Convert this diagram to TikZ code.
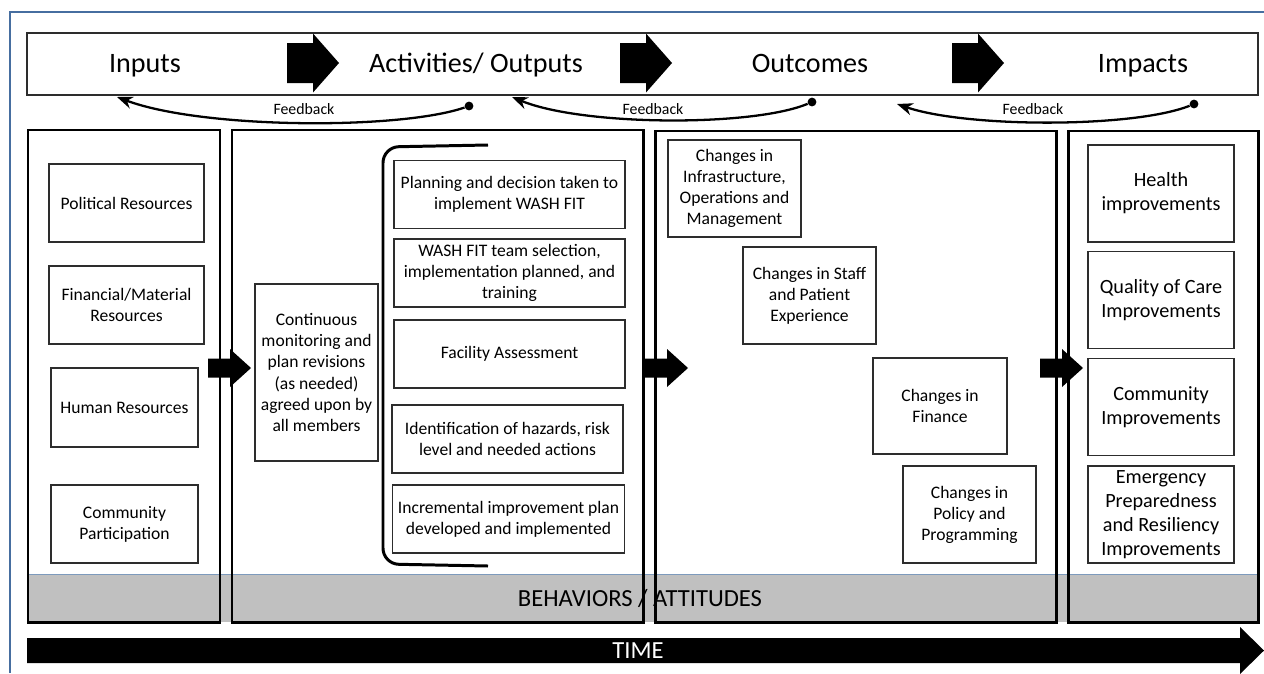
\documentclass[tikz,border=0pt]{standalone}
\usepackage{fontspec}
\setmainfont{Carlito}
\usepackage{tikz}
\usetikzlibrary{arrows.meta}

\definecolor{framecol}{RGB}{70,110,160}
\definecolor{bandgray}{RGB}{192,192,192}
\definecolor{boxline}{RGB}{45,45,45}

% x tail, y centre, length, head length, half shaft, half head
\newcommand{\blockarrow}[6]{%
  \fill (#1,#2-#5) -- (#1+#3-#4,#2-#5) -- (#1+#3-#4,#2-#6) -- (#1+#3,#2)
    -- (#1+#3-#4,#2+#6) -- (#1+#3-#4,#2+#5) -- (#1,#2+#5) -- cycle;}

\begin{document}
\begin{tikzpicture}[x=0.02cm,y=-0.02cm,
    box/.style={draw=boxline,line width=0.8pt,align=center,inner sep=1pt,
      font=\fontsize{10}{12}\selectfont},
    impbox/.style={box,minimum width=2.92cm,minimum height=1.94cm,
      font=\fontsize{11.5}{13.6}\selectfont},
    panel/.style={draw=black,line width=1.7pt},
    headtext/.style={anchor=base,font=\fontsize{16}{19}\selectfont},
    fbarrow/.style={line width=1.3pt,-{Stealth[length=9pt,width=7pt]}},
    fbdot/.style={circle,fill=black,inner sep=0pt,minimum size=5pt},
    fblabel/.style={font=\fontsize{9}{10}\selectfont}]
    \useasboundingbox (0,0) rectangle (1264,673);
    \fill[white] (0,0) rectangle (1264,673);
    \draw[framecol,line width=1.5pt] (10,673) -- (10,12) -- (1264,12);

    % top bar
    \draw[boxline,line width=0.8pt] (27,33) rectangle (1258,95);
    \node[headtext] (inputs) at (145,72) {Inputs};
    \node[headtext] (activities) at (476,72) {Activities/ Outputs};
    \node[headtext] (outcomes) at (810,72) {Outcomes};
    \node[headtext] (impacts) at (1143,72) {Impacts};
    \blockarrow{287}{63}{52}{26}{20}{29.5}
    \blockarrow{620}{63}{52}{26}{20}{29.5}
    \blockarrow{952}{63}{52}{26}{20}{29.5}

    % feedback
    \node[fbdot] (fb1s) at (469,106) {};
    \coordinate (fb1e) at (117,97);
    \draw[fbarrow] (fb1s) .. controls +(-70,24) and +(85,32) .. (fb1e);
    \node[fblabel] (fb1) at (304,109) {Feedback};
    \node[fbdot] (fb2s) at (812,102) {};
    \coordinate (fb2e) at (512,97);
    \draw[fbarrow] (fb2s) .. controls +(-60,25) and +(70,29) .. (fb2e);
    \node[fblabel] (fb2) at (653,109) {Feedback};
    \node[fbdot] (fb3s) at (1194,104) {};
    \coordinate (fb3e) at (897,104);
    \draw[fbarrow] (fb3s) .. controls +(-60,24) and +(70,24) .. (fb3e);
    \node[fblabel] (fb3) at (1033,109) {Feedback};

    % behaviours band and panels
    \fill[bandgray] (28,574) rectangle (1258,622);
    \draw[framecol!70,line width=0.5pt] (28,574) -- (1258,574);
    \draw[panel] (28,130) rectangle (220,622);
    \draw[panel] (232,130) rectangle (643,622);
    \draw[panel] (655,131) rectangle (1056,622);
    \draw[panel] (1068,131) rectangle (1258,622);
    \node[font=\fontsize{14}{16}\selectfont] (behav) at (640,598) {BEHAVIORS / ATTITUDES};

    % inputs
    \node[box,minimum width=3.1cm,minimum height=1.56cm] (pol) at (126.5,203) {Political Resources};
    \node[box,minimum width=3.1cm,minimum height=1.56cm] (fin) at (126.5,305) {Financial/Material\\Resources};
    \node[box,minimum width=2.94cm,minimum height=1.58cm] (hum) at (124.5,407.5) {Human Resources};
    \node[box,minimum width=2.94cm,minimum height=1.56cm] (com) at (124.5,524) {Community\\Participation};

    % activities
    \node[box,minimum width=2.46cm,minimum height=3.54cm] (cont) at (316.5,372.5)
      {Continuous\\monitoring and\\plan revisions\\(as needed)\\agreed upon by\\all members};
    \draw[line width=1.7pt,rounded corners=9pt] (488,145) -- (383,147) -- (383,564) -- (488,566);
    \node[box,minimum width=4.62cm,minimum height=1.36cm] (act1) at (509.5,194.5)
      {Planning and decision taken to\\implement WASH FIT};
    \node[box,minimum width=4.62cm,minimum height=1.36cm] (act2) at (509.5,273)
      {WASH FIT team selection,\\implementation planned, and\\training};
    \node[box,minimum width=4.62cm,minimum height=1.36cm] (act3) at (509.5,354) {Facility Assessment};
    \node[box,minimum width=4.62cm,minimum height=1.36cm] (act4) at (507.5,439)
      {Identification of hazards, risk\\level and needed actions};
    \node[box,minimum width=4.64cm,minimum height=1.36cm] (act5) at (508.5,519)
      {Incremental improvement plan\\developed and implemented};

    % outcomes
    \node[box,minimum width=2.66cm,minimum height=1.94cm] (infra) at (734.5,188.5)
      {Changes in\\Infrastructure,\\Operations and\\Management};
    \node[box,minimum width=2.66cm,minimum height=1.94cm] (staff) at (809.5,295.5)
      {Changes in Staff\\and Patient\\Experience};
    \node[box,minimum width=2.68cm,minimum height=1.92cm] (finance) at (940,406)
      {Changes in\\Finance};
    \node[box,minimum width=2.66cm,minimum height=1.94cm] (policy) at (969.5,514.5)
      {Changes in\\Policy and\\Programming};

    % impacts
    \node[impbox] (health) at (1161,193.5) {Health\\improvements};
    \node[impbox] (quality) at (1161,300) {Quality of Care\\Improvements};
    \node[impbox] (commimp) at (1161,407) {Community\\Improvements};
    \node[impbox] (emerg) at (1161,514.5) {Emergency\\Preparedness\\and Resiliency\\Improvements};

    % arrows between panels
    \blockarrow{208}{368}{43}{21}{9.5}{19}
    \blockarrow{645}{368}{43}{21}{9.5}{19}
    \blockarrow{1040}{368}{43}{21}{9.5}{19}

    % time
    \fill (27,638) -- (1240,638) -- (1240,627) -- (1264,650.5) -- (1240,674) -- (1240,663)
      -- (27,663) -- cycle;
    \node[white,font=\fontsize{14}{16}\selectfont] (time) at (638,651) {TIME};
\end{tikzpicture}
\end{document}
